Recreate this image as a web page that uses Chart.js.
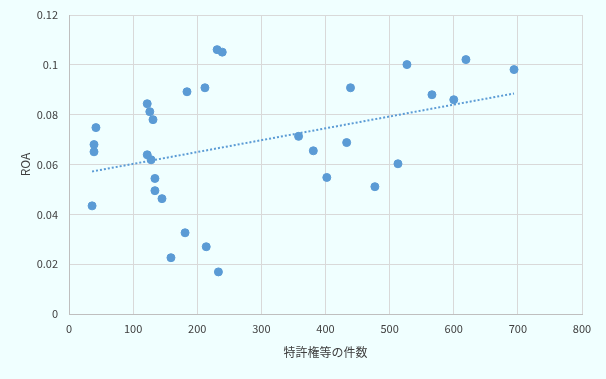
<!DOCTYPE html>
<html>
<head>
<meta charset="utf-8">
<script src="https://cdn.jsdelivr.net/npm/chart.js@4/dist/chart.umd.min.js"></script>
<style>
  html, body { margin: 0; padding: 0; background: #f0ffff; }
  #wrap { width: 606px; height: 379px; }
</style>
</head>
<body>
<div id="wrap"><canvas id="chart"></canvas></div>
<script>
// 特許権等の件数 と ROA
const patentCounts = [231, 239, 184, 212, 122, 126, 131, 42, 39, 39, 122, 128, 134, 134, 145, 36,
  181, 214, 159, 233, 527, 619, 694, 439, 566, 600, 358, 381, 433, 513, 402, 477];
const roaValues = [0.1061, 0.1051, 0.0892, 0.0908, 0.0844, 0.0812, 0.078, 0.0748, 0.068, 0.0651, 0.0639, 0.0619, 0.0544, 0.0495, 0.0463, 0.0434,
  0.0326, 0.027, 0.0226, 0.0169, 0.1001, 0.1021, 0.0981, 0.0908, 0.088, 0.086, 0.0713, 0.0655, 0.0688, 0.0603, 0.0548, 0.0511];

// 線形近似（両端）
const trendX = [36, 694];
const trendY = [0.0572, 0.0885];

const xTicks = [0, 100, 200, 300, 400, 500, 600, 700, 800];
const yTicks = [0, 0.02, 0.04, 0.06, 0.08, 0.1, 0.12];

const blue = '#5b9bd5';
const font = "'Noto Sans CJK JP', 'Noto Sans', sans-serif";

const scatterData = patentCounts.map((x, i) => ({ x: x, y: roaValues[i] }));
const trendData = trendX.map((x, i) => ({ x: x, y: trendY[i] }));

const bgPlugin = {
  id: 'bg',
  beforeDraw(chart) {
    const ctx = chart.ctx;
    ctx.save();
    ctx.fillStyle = '#f0ffff';
    ctx.fillRect(0, 0, chart.width, chart.height);
    ctx.restore();
  }
};

new Chart(document.getElementById('chart'), {
  type: 'scatter',
  data: {
    datasets: [
      {
        label: 'ROA',
        data: scatterData,
        backgroundColor: blue,
        borderColor: blue,
        pointRadius: 4,
        pointHoverRadius: 4,
        order: 1
      },
      {
        label: '線形近似',
        type: 'line',
        data: trendData,
        borderColor: blue,
        borderWidth: 2,
        borderDash: [2, 2],
        pointRadius: 0,
        fill: false,
        order: 2
      }
    ]
  },
  options: {
    responsive: true,
    maintainAspectRatio: false,
    animation: false,
    layout: { padding: { top: 15, right: 24, bottom: 14, left: 18 } },
    plugins: {
      legend: { display: false },
      tooltip: { enabled: false }
    },
    scales: {
      x: {
        type: 'linear',
        min: 0,
        max: 800,
        afterBuildTicks(scale) { scale.ticks = xTicks.map(v => ({ value: v })); },
        afterFit(scale) {
          scale.height = 51;
          scale.paddingLeft = 0;
          scale.paddingRight = 0;
        },
        grid: { color: '#d9d9d9', drawTicks: false },
        border: { color: '#bfbfbf' },
        ticks: { color: '#404040', font: { family: font, size: 11 }, padding: 8 },
        title: {
          display: true,
          text: '特許権等の件数',
          color: '#404040',
          font: { family: font, size: 12 },
          padding: { top: 6, bottom: 5 }
        }
      },
      y: {
        min: 0,
        max: 0.12,
        afterBuildTicks(scale) { scale.ticks = yTicks.map(v => ({ value: v })); },
        afterFit(scale) {
          scale.width = 51;
          scale.paddingTop = 0;
          scale.paddingBottom = 0;
        },
        grid: { color: '#d9d9d9', drawTicks: false },
        border: { color: '#bfbfbf' },
        ticks: {
          color: '#404040',
          font: { family: font, size: 11 },
          padding: 11,
          callback: v => String(Math.round(v * 100) / 100)
        },
        title: {
          display: true,
          text: 'ROA',
          color: '#404040',
          font: { family: font, size: 12 },
          padding: { top: 0, bottom: 0 }
        }
      }
    }
  },
  plugins: [bgPlugin]
});
</script>
</body>
</html>
